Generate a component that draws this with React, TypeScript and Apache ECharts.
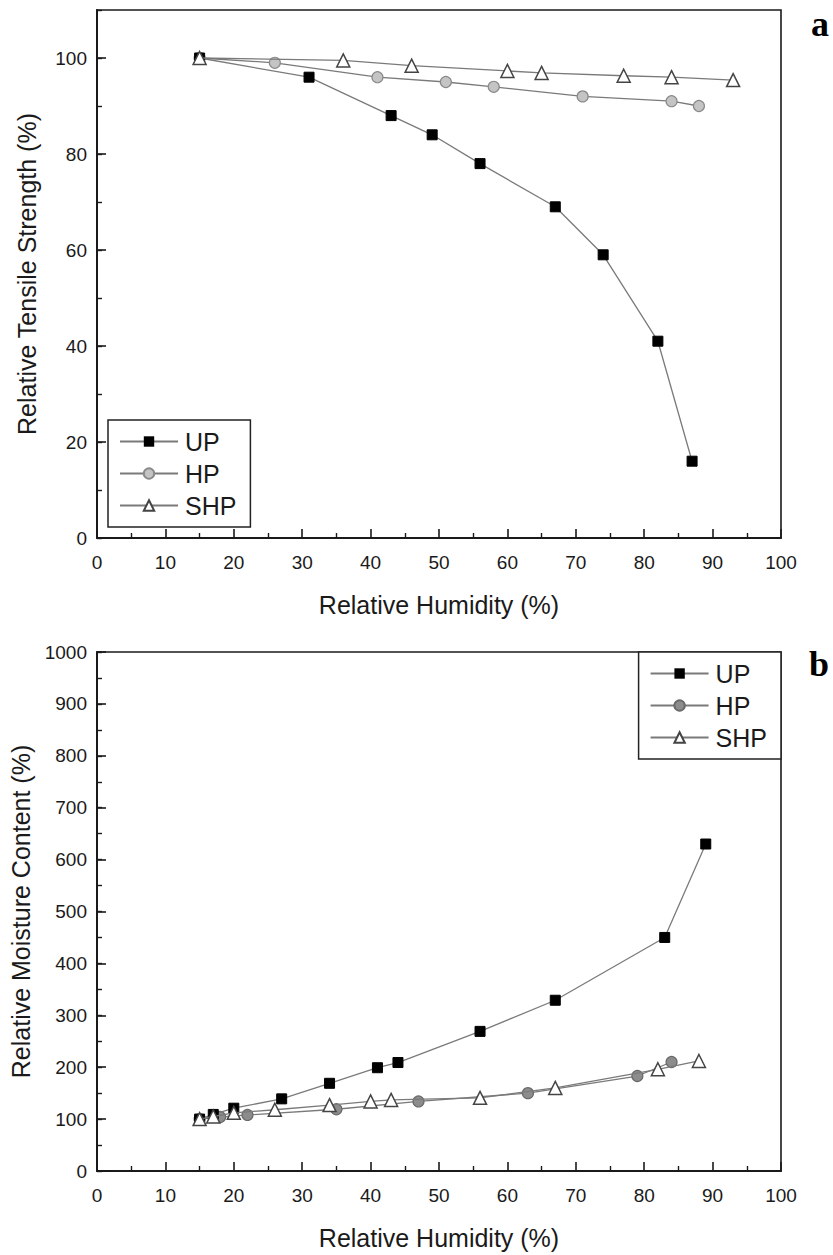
import React, { useEffect, useRef } from "react";
import * as echarts from "echarts";

// ---- Data: panel a (Relative Tensile Strength) ----
const upRH_a = [15, 31, 43, 49, 56, 67, 74, 82, 87];
const upTS_a = [100, 96, 88, 84, 78, 69, 59, 41, 16];
const hpRH_a = [15, 26, 41, 51, 58, 71, 84, 88];
const hpTS_a = [100, 99, 96, 95, 94, 92, 91, 90];
const shpRH_a = [15, 36, 46, 60, 65, 77, 84, 93];
const shpTS_a = [100, 99.5, 98.4, 97.3, 96.9, 96.3, 96, 95.4];

// ---- Data: panel b (Relative Moisture Content) ----
const upRH_b = [15, 17, 20, 27, 34, 41, 44, 56, 67, 83, 89];
const upMC_b = [100, 109, 121, 139, 169, 199, 209, 269, 329, 450, 630];
const hpRH_b = [15, 18, 22, 35, 47, 63, 79, 84];
const hpMC_b = [100, 104, 108, 119, 134, 150, 183, 210];
const shpRH_b = [15, 17, 20, 26, 34, 40, 43, 56, 67, 82, 88];
const shpMC_b = [100, 105, 112, 118, 127, 134, 137, 141, 160, 196, 212];

const seriesNames = ["UP", "HP", "SHP"];
const xTitle = "Relative Humidity (%)";
const yTitleA = "Relative Tensile Strength (%)";
const yTitleB = "Relative Moisture Content (%)";

const zip = (xs: number[], ys: number[]) => xs.map((x, i) => [x, ys[i]]);

const FONT = '"Liberation Sans", Arial, sans-serif';
const AX = "#1a1a1a";

function xAxisCfg() {
  return {
    type: "value",
    min: 0,
    max: 100,
    interval: 10,
    name: xTitle,
    nameLocation: "middle",
    nameGap: 54,
    nameTextStyle: { fontSize: 25, color: AX, fontFamily: FONT },
    axisLine: { show: true, onZero: false, lineStyle: { color: AX, width: 2 } },
    axisTick: { show: true, inside: true, length: 9, lineStyle: { color: AX, width: 1.6 } },
    minorTick: { show: true, splitNumber: 2, length: 5, lineStyle: { color: AX, width: 1.4 } },
    splitLine: { show: false },
    axisLabel: { fontSize: 19, color: AX, fontFamily: FONT, margin: 15, formatter: (v: number) => String(v) },
  };
}

function yAxesCfg(max: number, major: number, title: string) {
  return [
    {
      type: "value",
      position: "left",
      min: 0,
      max,
      interval: major,
      name: title,
      nameLocation: "middle",
      nameGap: 58,
      nameTextStyle: { fontSize: 25, color: AX, fontFamily: FONT },
      axisLine: { show: true, onZero: false, lineStyle: { color: AX, width: 2 } },
      axisTick: { show: true, inside: true, length: 9, lineStyle: { color: AX, width: 1.6 } },
      splitLine: { show: false },
      axisLabel: {
        fontSize: 19,
        color: AX,
        fontFamily: FONT,
        margin: 10,
        showMaxLabel: max % major === 0,
        formatter: (v: number) => String(v),
      },
    },
    {
      type: "value",
      position: "left",
      min: 0,
      max,
      interval: major / 2,
      axisLine: { show: false },
      axisTick: { show: true, inside: true, length: 5, lineStyle: { color: AX, width: 1.4 } },
      splitLine: { show: false },
      axisLabel: { show: false },
    },
  ];
}

function makeSeries(
  up: number[][],
  hp: number[][],
  shp: number[][],
  hpFill: string,
  hpBorder: string
) {
  const line = { color: "#7a7a7a", width: 1.3 };
  return [
    {
      name: "UP",
      type: "line",
      data: up,
      symbol: "rect",
      symbolSize: 10,
      itemStyle: { color: "#000", borderColor: "#000" },
      lineStyle: line,
      z: 3,
    },
    {
      name: "HP",
      type: "line",
      data: hp,
      symbol: "circle",
      symbolSize: 11,
      itemStyle: { color: hpFill, borderColor: hpBorder, borderWidth: 1.2 },
      lineStyle: line,
      z: 2,
    },
    {
      name: "SHP",
      type: "line",
      data: shp,
      symbol: "triangle",
      symbolSize: 13,
      itemStyle: { color: "#fff", borderColor: "#444", borderWidth: 1.5 },
      lineStyle: line,
      z: 4,
    },
  ];
}

function legendCfg(pos: any) {
  return {
    ...pos,
    orient: "vertical",
    data: seriesNames,
    itemWidth: 58,
    itemHeight: 13,
    itemGap: 7,
    padding: [9, 14, 9, 11],
    borderColor: "#222",
    borderWidth: 1.5,
    backgroundColor: "#fff",
    selectedMode: false,
    textStyle: { fontSize: 25, color: AX, fontFamily: FONT, padding: [0, 0, 0, 2] },
  };
}

function panelLabel(letter: string) {
  return {
    type: "text",
    right: 4,
    top: 6,
    style: { text: letter, font: 'bold 36px "Liberation Serif", "Times New Roman", serif', fill: "#000" },
  };
}

export default function App() {
  const refA = useRef<HTMLDivElement>(null);
  const refB = useRef<HTMLDivElement>(null);

  useEffect(() => {
    const chartA = echarts.init(refA.current!, undefined, { renderer: "svg" });
    const chartB = echarts.init(refB.current!, undefined, { renderer: "svg" });

    chartA.setOption({
      animation: false,
      backgroundColor: "#fff",
      textStyle: { fontFamily: FONT },
      grid: { left: 97, top: 10, width: 684, height: 528, show: true, borderColor: AX, borderWidth: 1.6 },
      xAxis: xAxisCfg(),
      yAxis: yAxesCfg(110, 20, yTitleA),
      legend: legendCfg({ left: 108, top: 420 }),
      series: makeSeries(zip(upRH_a, upTS_a), zip(hpRH_a, hpTS_a), zip(shpRH_a, shpTS_a), "#c4c4c4", "#8a8a8a"),
      graphic: [panelLabel("a")],
    });

    chartB.setOption({
      animation: false,
      backgroundColor: "#fff",
      textStyle: { fontFamily: FONT },
      grid: { left: 97, top: 12, width: 684, height: 526, show: true, borderColor: AX, borderWidth: 1.6 },
      xAxis: xAxisCfg(),
      yAxis: yAxesCfg(1000, 100, yTitleB),
      legend: legendCfg({ right: 52, top: 12 }),
      series: makeSeries(zip(upRH_b, upMC_b), zip(hpRH_b, hpMC_b), zip(shpRH_b, shpMC_b), "#8c8c8c", "#6a6a6a"),
      graphic: [panelLabel("b")],
    });

    return () => {
      chartA.dispose();
      chartB.dispose();
    };
  }, []);

  return (
    <div style={{ position: "absolute", left: 0, top: 0, width: 833, height: 1255, background: "#fff" }}>
      <div ref={refA} style={{ position: "absolute", left: 0, top: 0, width: 833, height: 640 }} />
      <div ref={refB} style={{ position: "absolute", left: 0, top: 640, width: 833, height: 615 }} />
    </div>
  );
}
